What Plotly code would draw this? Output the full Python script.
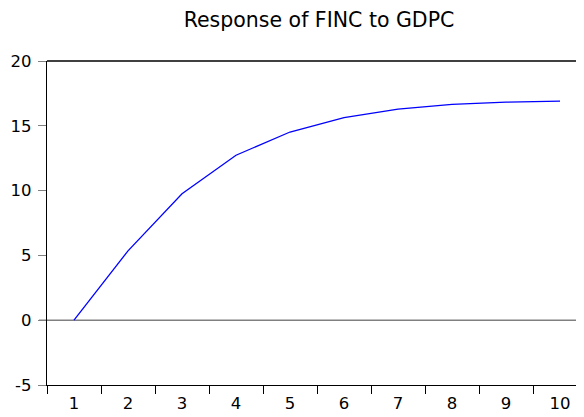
import plotly.graph_objects as go

periods = ["1", "2", "3", "4", "5", "6", "7", "8", "9", "10"]
response = [0.0, 5.35, 9.75, 12.73, 14.52, 15.63, 16.28, 16.65, 16.82, 16.9]
y_ticks = [-5, 0, 5, 10, 15, 20]
y_tick_labels = ["-5", "0", "5", "10", "15", "20"]

fig = go.Figure()
fig.add_trace(go.Scatter(x=periods, y=response, mode="lines",
                         line=dict(color="#0000FF", width=1.3)))

fig.update_layout(
    width=584, height=417,
    margin=dict(l=39, r=8, t=53, b=40, autoexpand=False),
    paper_bgcolor="white", plot_bgcolor="white",
    showlegend=False,
    font=dict(family="DejaVu Sans, sans-serif", size=16, color="black"),
    title=dict(text="Response of FINC to GDPC", xref="container", x=0.5325,
               xanchor="center", yref="container", y=0.972, yanchor="middle",
               font=dict(size=20.5)),
    shapes=[dict(type="line", xref="paper", yref="paper", x0=0, x1=1, y0=1, y1=1,
                 line=dict(color="black", width=1.3))],
)
fig.update_xaxes(type="category", range=[-0.5, 9.444], tickson="boundaries",
                 ticks="outside", ticklen=8, tickcolor="black", showgrid=False,
                 showline=True, linecolor="black", linewidth=1.3, zeroline=False,
                 automargin=False, tickfont=dict(size=16.5), ticklabelstandoff=3)
fig.update_yaxes(range=[-5, 20], tickvals=y_ticks, ticktext=y_tick_labels,
                 ticks="outside", ticklen=8, tickcolor="gray", showgrid=False,
                 showline=True, linecolor="black", linewidth=1.3,
                 zeroline=True, zerolinecolor="gray", zerolinewidth=1.3,
                 automargin=False, tickfont=dict(size=16.5), ticklabelstandoff=3)
fig.add_shape(type="line", xref="paper", yref="y", x0=-8/537, x1=1, y0=0, y1=0,
              line=dict(color="gray", width=1.3), layer="below")

fig.write_html("out.html")
